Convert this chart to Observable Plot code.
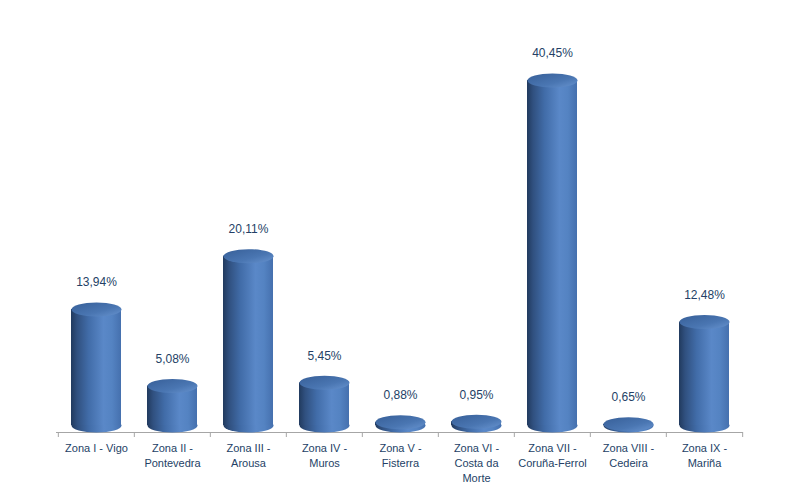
<!DOCTYPE html>
<html>
<head>
<meta charset="utf-8">
<script src="https://cdn.jsdelivr.net/npm/d3@7"></script>
<script src="https://cdn.jsdelivr.net/npm/@observablehq/plot@0.6"></script>
<style>
  html, body { margin: 0; padding: 0; background: #ffffff; }
  #chart { width: 799px; height: 488px; }
</style>
</head>
<body>
<div id="chart"></div>
<script>
const categories = [
  "Zona I - Vigo",
  "Zona II -\nPontevedra",
  "Zona III -\nArousa",
  "Zona IV -\nMuros",
  "Zona V -\nFisterra",
  "Zona VI -\nCosta da\nMorte",
  "Zona VII -\nCoruña-Ferrol",
  "Zona VIII -\nCedeira",
  "Zona IX -\nMariña"
];
const values = [13.94, 5.08, 20.11, 5.45, 0.88, 0.95, 40.45, 0.65, 12.48];
const valueLabels = ["13,94%", "5,08%", "20,11%", "5,45%", "0,88%", "0,95%", "40,45%", "0,65%", "12,48%"];

const data = categories.map((c, i) => ({ zona: c, value: values[i], label: valueLabels[i] }));

const RX = 25, RY = 7;
const K = 0.5523;
const ellipse = {
  draw(context) {
    context.moveTo(-RX, 0);
    context.bezierCurveTo(-RX, -RY * K, -RX * K, -RY, 0, -RY);
    context.bezierCurveTo(RX * K, -RY, RX, -RY * K, RX, 0);
    context.bezierCurveTo(RX, RY * K, RX * K, RY, 0, RY);
    context.bezierCurveTo(-RX * K, RY, -RX, RY * K, -RX, 0);
    context.closePath();
  }
};

const textColor = "#243F66";
const font = "Liberation Sans, Arial, sans-serif";
const lastCat = [categories[categories.length - 1]];

const plot = Plot.plot({
  width: 799,
  height: 488,
  marginLeft: 56,
  marginRight: 56,
  marginTop: 40.6,
  marginBottom: 58.6,
  style: { fontFamily: font, background: "#ffffff" },
  x: { domain: categories, paddingInner: 0.345, paddingOuter: 0.1725, axis: null, label: null },
  y: { domain: [0, 45], axis: null },
  marks: [
    Plot.ruleY([0], { dy: 2.6, stroke: "#a6a6a6", strokeWidth: 1 }),
    Plot.axisX({ ticks: categories, tickSize: 5, dx: -38.17, dy: 2.6, tickFormat: () => "", label: null, stroke: "#a6a6a6" }),
    Plot.axisX({ ticks: lastCat, tickSize: 5, dx: 38.17, dy: 2.6, tickFormat: () => "", label: null, stroke: "#a6a6a6" }),
    Plot.dot(data, { x: "zona", y: () => 0, dy: -4.4, symbol: ellipse, r: 10, fill: "url(#cylBody)", stroke: "none" }),
    Plot.barY(data, { x: "zona", y: "value", insetBottom: 4.4, fill: "url(#cylBody)" }),
    Plot.dot(data, { x: "zona", y: "value", symbol: ellipse, r: 10, fill: "url(#cylTop)", stroke: "none" }),
    Plot.text(data, { x: "zona", y: "value", text: "label", dy: -27, fill: textColor, fontSize: 12, fontFamily: font }),
    Plot.text(data, { x: "zona", frameAnchor: "bottom", text: "zona", dy: 11.5, lineAnchor: "top", lineHeight: 1.36, fill: textColor, fontSize: 11, fontFamily: font })
  ]
});

const defs = `
<defs>
  <linearGradient id="cylBody" x1="0" y1="0" x2="1" y2="0">
    <stop offset="0" stop-color="#213a5e"/>
    <stop offset="0.12" stop-color="#30507f"/>
    <stop offset="0.35" stop-color="#416ca8"/>
    <stop offset="0.65" stop-color="#5a88c8"/>
    <stop offset="0.82" stop-color="#5483c2"/>
    <stop offset="1" stop-color="#4570ae"/>
  </linearGradient>
  <linearGradient id="cylTop" x1="0" y1="0" x2="1" y2="1">
    <stop offset="0" stop-color="#375f98"/>
    <stop offset="0.6" stop-color="#4a76b2"/>
    <stop offset="1" stop-color="#6894d0"/>
  </linearGradient>
</defs>`;
plot.insertAdjacentHTML("afterbegin", defs);
document.getElementById("chart").appendChild(plot);
</script>
</body>
</html>
